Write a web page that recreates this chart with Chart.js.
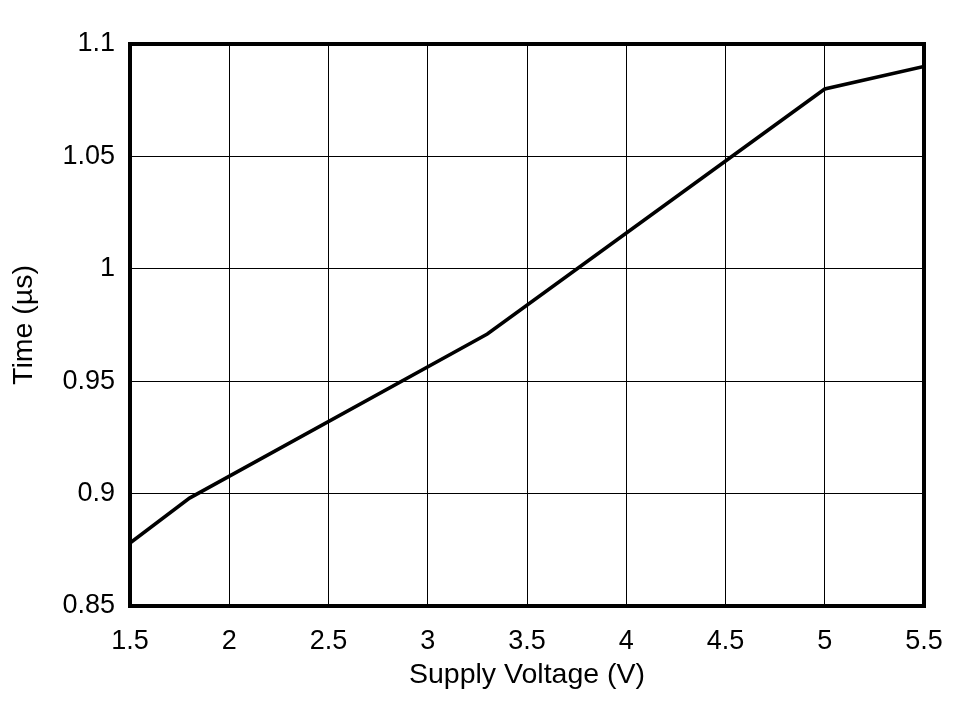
<!DOCTYPE html>
<html lang="en">
<head>
  <meta charset="UTF-8">
  <title>Time vs Supply Voltage</title>
  <script src="https://cdn.jsdelivr.net/npm/chart.js"></script>
  <style>
    body {
      margin: 0;
      background: #fff;
    }
    #chart {
      display: block;
    }
  </style>
</head>
<body>
<canvas id="chart" width="968" height="701"></canvas>

<script>
  // values
  const supplyVoltage = [1.5, 1.8, 3.3, 5.0, 5.5];
  const timeUs = [0.878, 0.898, 0.971, 1.080, 1.090];

  const xTicks = [1.5, 2, 2.5, 3, 3.5, 4, 4.5, 5, 5.5];
  const yTicks = [0.85, 0.9, 0.95, 1, 1.05, 1.1];

  const tickFont = { family: "'Liberation Sans', Arial, sans-serif", size: 27 };
  const titleFont = { family: "'Liberation Sans', Arial, sans-serif", size: 28.5 };

  // box round the plot area
  const frame = {
    id: 'frame',
    afterDraw(chart) {
      const a = chart.chartArea;
      const c = chart.ctx;
      c.save();
      c.strokeStyle = '#000';
      c.lineWidth = 4;
      c.strokeRect(a.left, a.top, a.right - a.left, a.bottom - a.top);
      c.restore();
    }
  };

  new Chart(document.getElementById('chart'), {
    type: 'scatter',
    data: {
      datasets: [{
        data: supplyVoltage.map((v, i) => ({ x: v, y: timeUs[i] })),
        showLine: true,
        borderColor: '#000',
        borderWidth: 3.5,
        pointRadius: 0,
        tension: 0
      }]
    },
    options: {
      responsive: false,
      animation: false,
      layout: { padding: { left: 7, top: 44, right: 44, bottom: 4 } },
      plugins: {
        legend: { display: false },
        tooltip: { enabled: false }
      },
      scales: {
        x: {
          type: 'linear',
          min: xTicks[0],
          max: xTicks[xTicks.length - 1],
          afterBuildTicks: s => { s.ticks = xTicks.map(v => ({ value: v })); },
          afterFit: s => { s.height = 91; },
          grid: { color: '#000', lineWidth: 1, drawTicks: false },
          border: { display: false },
          ticks: {
            color: '#000',
            font: tickFont,
            padding: 19,
            maxRotation: 0,
            callback: v => String(v)
          },
          title: {
            display: true,
            text: 'Supply Voltage (V)',
            color: '#000',
            font: titleFont,
            padding: { top: 0, bottom: 5 }
          }
        },
        y: {
          type: 'linear',
          min: yTicks[0],
          max: yTicks[yTicks.length - 1],
          afterBuildTicks: s => { s.ticks = yTicks.map(v => ({ value: v })); },
          afterFit: s => { s.width = 123; },
          grid: { color: '#000', lineWidth: 1, drawTicks: false },
          border: { display: false },
          ticks: {
            color: '#000',
            font: tickFont,
            padding: 15,
            callback: v => String(parseFloat(v.toFixed(2)))
          },
          title: {
            display: true,
            text: 'Time (µs)',
            color: '#000',
            font: titleFont,
            padding: { top: 0, bottom: 0 }
          }
        }
      }
    },
    plugins: [frame]
  });
</script>
</body>
</html>
